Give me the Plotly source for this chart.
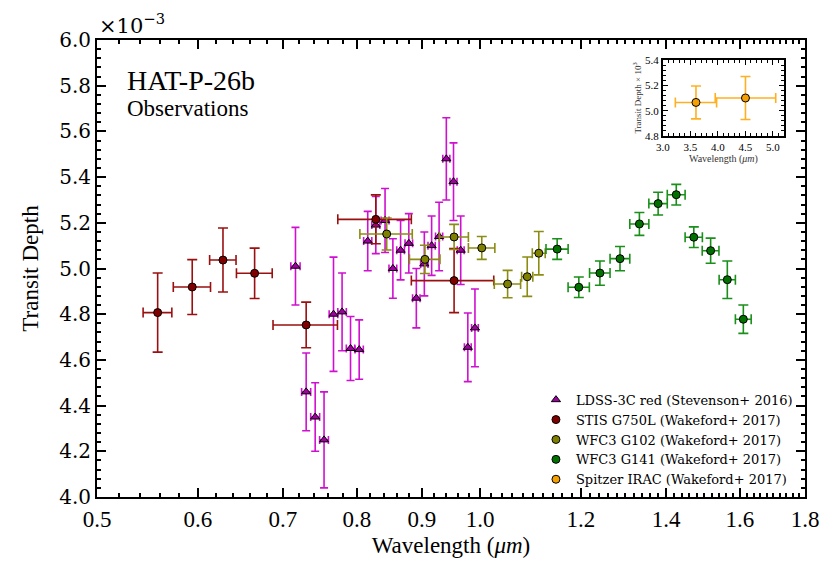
import numpy as np
import plotly.graph_objects as go

# ---------------- data (depth in units of 1e-3) ----------------
ldss_wav = [0.716, 0.730, 0.742, 0.754, 0.767, 0.779, 0.791, 0.8035, 0.816, 0.828, 0.842, 0.854,
            0.866, 0.879, 0.891, 0.904, 0.916, 0.9285, 0.9407, 0.953, 0.9655, 0.978, 0.9907]
ldss_depth = [5.01, 4.46, 4.35, 4.25, 4.80, 4.81, 4.65, 4.645, 5.12, 5.19, 5.21, 5.00,
              5.08, 5.11, 4.87, 5.02, 5.10, 5.14, 5.48, 5.38, 5.08, 4.655, 4.74]
ldss_err = [0.17, 0.17, 0.15, 0.21, 0.25, 0.17, 0.14, 0.13, 0.13, 0.125, 0.14, 0.13,
            0.13, 0.13, 0.13, 0.14, 0.13, 0.15, 0.18, 0.17, 0.15, 0.15, 0.17]
ldss_xerr = [0.006] * len(ldss_wav)

stis_wav = [0.558, 0.594, 0.628, 0.665, 0.730, 0.828, 0.954]
stis_depth = [4.807, 4.919, 5.037, 4.979, 4.753, 5.215, 4.947]
stis_err = [0.173, 0.12, 0.14, 0.11, 0.10, 0.107, 0.14]
stis_xerr = [0.0145, 0.02, 0.015, 0.0215, 0.0425, 0.055, 0.071]

g102_wav = [0.8445, 0.905, 0.954, 1.003, 1.051, 1.089, 1.112]
g102_depth = [5.151, 5.040, 5.138, 5.090, 4.932, 4.964, 5.067]
g102_err = [0.07, 0.062, 0.055, 0.05, 0.06, 0.086, 0.095]
g102_xerr = [0.040, 0.025, 0.025, 0.024, 0.025, 0.011, 0.013]

g141_wav = [1.1496, 1.1955, 1.242, 1.288, 1.334, 1.380, 1.426, 1.472, 1.5175, 1.564, 1.610]
g141_depth = [5.085, 4.918, 4.980, 5.043, 5.195, 5.284, 5.323, 5.137, 5.078, 4.951, 4.778]
g141_err = [0.045, 0.045, 0.053, 0.053, 0.05, 0.05, 0.045, 0.045, 0.055, 0.082, 0.062]
g141_xerr = [0.023] * len(g141_wav)

irac_wav = [3.6, 4.5]
irac_depth = [5.065, 5.10]
irac_err = [0.13, 0.17]
irac_xerr = [0.375, 0.55]

x_tick_vals = [0.5, 0.6, 0.7, 0.8, 0.9, 1.0, 1.2, 1.4, 1.6, 1.8]
x_tick_text = ["0.5", "0.6", "0.7", "0.8", "0.9", "1.0", "1.2", "1.4", "1.6", "1.8"]
x_minor_vals = [round(v, 2) for v in np.arange(0.52, 1.8, 0.02)]

series = [
    ("LDSS-3C red (Stevenson+ 2016)", ldss_wav, ldss_depth, ldss_err, ldss_xerr,
     "#d010d0", "#a000a0", "triangle-up", 8, 4, "x", "y"),
    ("STIS G750L (Wakeford+ 2017)", stis_wav, stis_depth, stis_err, stis_xerr,
     "#9a1010", "#800000", "circle", 8, 5, "x", "y"),
    ("WFC3 G102 (Wakeford+ 2017)", g102_wav, g102_depth, g102_err, g102_xerr,
     "#8c8c14", "#808000", "circle", 8, 5, "x", "y"),
    ("WFC3 G141 (Wakeford+ 2017)", g141_wav, g141_depth, g141_err, g141_xerr,
     "#1a8f1a", "#007000", "circle", 8, 5, "x", "y"),
    ("Spitzer IRAC (Wakeford+ 2017)", irac_wav, irac_depth, irac_err, irac_xerr,
     "#ffb020", "#f5a000", "circle", 8, 5, "x2", "y2"),
]

fig = go.Figure()
for name, xs, ys, ye, xe, ecol, mcol, sym, msz, cap, xa, ya in series:
    fig.add_trace(go.Scatter(
        x=xs, y=ys, mode="markers", name=name, xaxis=xa, yaxis=ya,
        marker=dict(symbol=sym, size=msz, color=mcol, line=dict(color="black", width=1)),
        error_y=dict(type="data", array=ye, color=ecol, thickness=1.6, width=cap),
        error_x=dict(type="data", array=xe, color=ecol, thickness=1.6, width=cap),
    ))

serif_cm = "Liberation Serif"
serif_dj = "DejaVu Serif"

axis_common = dict(
    showline=True, linecolor="black", linewidth=2, mirror="allticks",
    ticks="inside", tickcolor="black", showgrid=False, zeroline=False,
)

fig.update_layout(
    width=835, height=577,
    margin=dict(l=97, r=30, t=40, b=80),
    plot_bgcolor="white", paper_bgcolor="white",
    showlegend=True,
    legend=dict(x=0.62, xanchor="left", y=0.005, yanchor="bottom",
                font=dict(family=serif_dj, size=13, color="black"),
                bgcolor="rgba(0,0,0,0)", tracegroupgap=0),
    xaxis=dict(
        **axis_common, type="log", range=[np.log10(0.5), np.log10(1.8)],
        tickmode="array", tickvals=x_tick_vals, ticktext=x_tick_text,
        ticklen=9, tickwidth=1.5,
        tickfont=dict(family=serif_cm, size=23, color="black"),
        minor=dict(tickmode="array", tickvals=x_minor_vals, ticks="inside",
                   ticklen=4, tickcolor="black", showgrid=False),
        title=dict(text="Wavelength (<i>μm</i>)", font=dict(family=serif_cm, size=23, color="black"),
                   standoff=6),
    ),
    yaxis=dict(
        **axis_common, range=[4.0, 6.0], dtick=0.2, tick0=4.0, tickformat=".1f",
        ticklen=9, tickwidth=1.5,
        tickfont=dict(family=serif_dj, size=20, color="black"),
        minor=dict(dtick=0.04, ticks="inside", ticklen=4, tickcolor="black", showgrid=False),
        title=dict(text="Transit Depth", font=dict(family=serif_cm, size=23, color="black"),
                   standoff=14),
    ),
    xaxis2=dict(
        **axis_common, domain=[0.7994, 0.9703], anchor="y2", range=[3.0, 5.2],
        dtick=0.5, tick0=3.0, tickformat=".1f", ticklen=5, tickwidth=1,
        tickfont=dict(family=serif_cm, size=11, color="black"),
        minor=dict(dtick=0.1, ticks="inside", ticklen=3, tickcolor="black", showgrid=False),
        title=dict(text="Wavelength (<i>μm</i>)", font=dict(family=serif_cm, size=10, color="#333"),
                   standoff=2),
    ),
    yaxis2=dict(
        **axis_common, domain=[0.790, 0.9562], anchor="x2", range=[4.8, 5.4],
        dtick=0.2, tick0=4.8, tickformat=".1f", ticklen=5, tickwidth=1,
        tickfont=dict(family=serif_cm, size=11, color="black"),
        minor=dict(dtick=0.04, ticks="inside", ticklen=3, tickcolor="black", showgrid=False),
        title=dict(text="Transit Depth × 10<sup>3</sup>", font=dict(family=serif_cm, size=9, color="#333"),
                   standoff=2),
    ),
    annotations=[
        dict(text="×10<sup>−3</sup>", xref="paper", yref="paper", x=0.0, y=1.0,
             xanchor="left", yanchor="bottom", showarrow=False,
             font=dict(family=serif_dj, size=21, color="black")),
        dict(text="HAT-P-26b", xref="paper", yref="paper", x=0.0395, y=0.912,
             xanchor="left", yanchor="middle", showarrow=False,
             font=dict(family=serif_cm, size=28, color="black")),
        dict(text="Observations", xref="paper", yref="paper", x=0.0395, y=0.851,
             xanchor="left", yanchor="middle", showarrow=False,
             font=dict(family=serif_cm, size=23, color="black")),
    ],
)

fig.write_html("out.html")
